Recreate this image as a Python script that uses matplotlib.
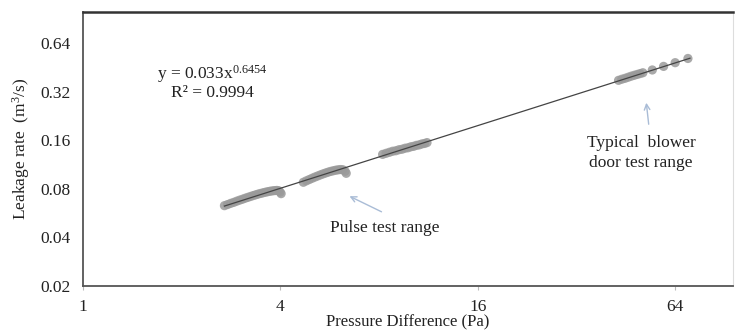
import numpy as np
import matplotlib.pyplot as plt

plt.rcParams['font.family'] = ['Liberation Serif', 'DejaVu Serif']
plt.rcParams['mathtext.fontset'] = 'custom'
plt.rcParams['mathtext.rm'] = 'Liberation Serif'
plt.rcParams['mathtext.it'] = 'Liberation Serif:italic'

x_pulse1 = [2.70, 2.76, 2.82, 2.88, 2.94, 3.00, 3.06, 3.12, 3.18, 3.24, 3.30, 3.36,
            3.42, 3.48, 3.54, 3.60, 3.66, 3.72, 3.78, 3.84, 3.90, 3.95, 3.99, 4.02]
y_pulse1 = [0.0630, 0.0640, 0.0651, 0.0660, 0.0671, 0.0681, 0.0690, 0.0700, 0.0709, 0.0718, 0.0727, 0.0735,
            0.0743, 0.0750, 0.0757, 0.0763, 0.0769, 0.0774, 0.0778, 0.0781, 0.0783, 0.0780, 0.0765, 0.0748]
x_pulse2 = [4.70, 4.80, 4.90, 5.00, 5.10, 5.20, 5.30, 5.40, 5.50, 5.60, 5.70, 5.80,
            5.90, 6.00, 6.10, 6.20, 6.30, 6.35]
y_pulse2 = [0.0880, 0.0898, 0.0915, 0.0932, 0.0948, 0.0963, 0.0978, 0.0992, 0.1005, 0.1017, 0.1028, 0.1037,
            0.1045, 0.1051, 0.1055, 0.1052, 0.1030, 0.1000]
x_pulse3 = [8.2, 8.4, 8.6, 8.8, 9.0, 9.2, 9.4, 9.6, 9.8, 10.0, 10.2, 10.4,
            10.6, 10.8, 11.0, 11.2]
y_pulse3 = [0.131, 0.133, 0.135, 0.137, 0.138, 0.140, 0.141, 0.143, 0.144, 0.146, 0.147, 0.149,
            0.150, 0.152, 0.153, 0.155]
x_blower = [43.0, 44.0, 45.0, 46.0, 47.0, 48.0, 49.0, 50.0, 51.0, 54.5, 59.0, 64.0, 70.0]
y_blower = [0.377, 0.383, 0.388, 0.394, 0.400, 0.405, 0.410, 0.415, 0.420, 0.437, 0.460, 0.485, 0.515]

# power-law fit y = a * x^b
fit_a = 0.033
fit_b = 0.6454
fit_x = np.array([2.7, 71.0])

x_ticks = [1, 4, 16, 64]
y_ticks = [0.02, 0.04, 0.08, 0.16, 0.32, 0.64]

fig = plt.figure(figsize=(7.36, 3.33), dpi=100)
ax = fig.add_axes([0.1128, 0.141, 0.883, 0.823])

pt_style = dict(color='#9a9a9a', s=44, alpha=0.85, edgecolors='none', zorder=2)
for xs, ys in [(x_pulse1, y_pulse1), (x_pulse2, y_pulse2),
               (x_pulse3, y_pulse3), (x_blower, y_blower)]:
    ax.scatter(xs, ys, **pt_style)

ax.plot(fit_x, fit_a * fit_x ** fit_b, color='#444444', lw=0.9, zorder=3)

ax.set_xscale('log', base=2)
ax.set_yscale('log', base=2)
ax.set_xlim(1, 96)
ax.set_ylim(0.02, 1.0)
ax.set_xticks(x_ticks)
ax.set_xticklabels([str(t) for t in x_ticks])
ax.set_yticks(y_ticks)
ax.set_yticklabels([f'{t:.2f}' for t in y_ticks])
ax.minorticks_off()
ax.tick_params(axis='both', labelsize=12.5, colors='#bbbbbb', labelcolor='#222222', length=3)
ax.tick_params(axis='x', pad=6)
ax.tick_params(axis='y', length=0, pad=9)

for side in ['left', 'bottom']:
    ax.spines[side].set_color('#555555')
    ax.spines[side].set_linewidth(1.3)
ax.spines['top'].set_color('#333333')
ax.spines['top'].set_linewidth(1.8)
ax.spines['right'].set_color('#dddddd')
ax.spines['right'].set_linewidth(0.8)

ax.set_xlabel('Pressure Difference (Pa)', fontsize=12, labelpad=0, color='#222222')
ax.set_ylabel('Leakage rate  (m$^3$/s)', fontsize=12.5, labelpad=6, color='#222222')

# pixel coords (origin top-left) converted for transform=None
H = 333
def px(x, y):
    return (x, H - y)

ax.text(*px(212, 74), r'y = 0.033x$^{0.6454}$', transform=None, fontsize=12.5,
        ha='center', va='center', color='#222222')
ax.text(*px(212, 93), 'R² = 0.9994', transform=None, fontsize=12.5,
        ha='center', va='center', color='#222222')

ax.text(*px(385, 228), 'Pulse test range', transform=None, fontsize=12.5,
        ha='center', va='center', color='#222222')
ax.text(*px(641, 143), 'Typical  blower', transform=None, fontsize=12.5,
        ha='center', va='center', color='#222222')
ax.text(*px(641, 163), 'door test range', transform=None, fontsize=12.5,
        ha='center', va='center', color='#222222')

arrow = dict(arrowstyle='->', color='#a9bcd6', lw=1.0)
ax.annotate('', xy=px(347, 195), xytext=px(384, 213), xycoords='figure pixels',
            textcoords='figure pixels', arrowprops=arrow)
ax.annotate('', xy=px(646, 100), xytext=px(649, 127), xycoords='figure pixels',
            textcoords='figure pixels', arrowprops=arrow)

fig.savefig('out.png', dpi=100)
